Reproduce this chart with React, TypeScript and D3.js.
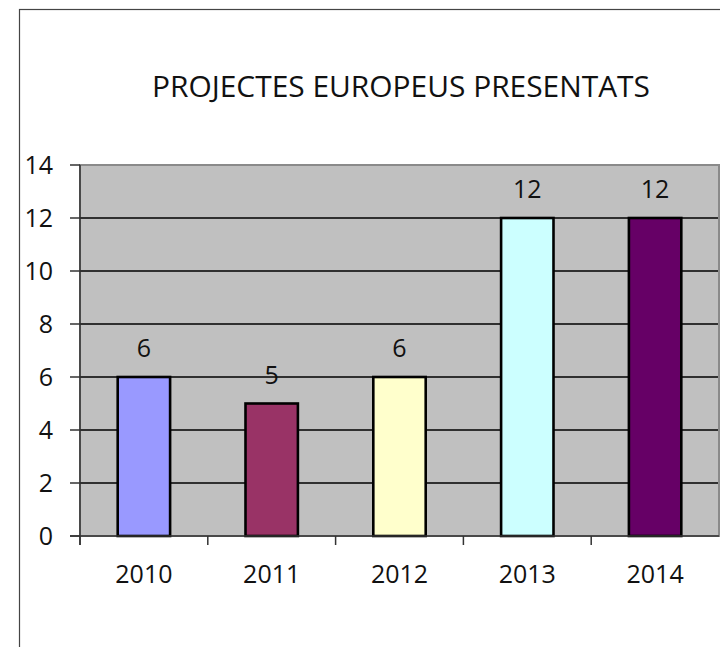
import React from "react";
import * as d3 from "d3";

const categories = ["2010", "2011", "2012", "2013", "2014"];
const values = [6, 5, 6, 12, 12];
const barColors = ["#9999FF", "#993366", "#FFFFCC", "#CCFFFF", "#660066"];
const yTicks = [0, 2, 4, 6, 8, 10, 12, 14];
const title = "PROJECTES EUROPEUS PRESENTATS";

const W = 720;
const H = 647;
const plot = { left: 80, right: 719, top: 165, bottom: 536 };
const FONT = "'Open Sans', 'Liberation Sans', sans-serif";

export default function App() {
  const x = d3
    .scaleBand<string>()
    .domain(categories)
    .range([plot.left, plot.right])
    .paddingInner(0)
    .paddingOuter(0);
  const y = d3.scaleLinear().domain([0, 14]).range([plot.bottom, plot.top]);
  const bw = x.bandwidth() * 0.41;
  const boundaries = d3.range(categories.length).map((i) => plot.left + i * x.step());

  return (
    <svg
      width={W}
      height={H}
      style={{ position: "absolute", left: 0, top: 0, background: "#fff" }}
      fontFamily={FONT}
    >
      <rect x={19.5} y={9.5} width={W + 20} height={H + 20} fill="#fff" stroke="#444" strokeWidth={1.2} />
      <text
        x={401}
        y={97}
        textAnchor="middle"
        fontSize={30}
        fill="#111"
        textLength={498}
        lengthAdjust="spacingAndGlyphs"
      >
        {title}
      </text>
      <rect
        x={plot.left}
        y={plot.top}
        width={plot.right - plot.left}
        height={plot.bottom - plot.top}
        fill="#C0C0C0"
        stroke="#8a8a8a"
        strokeWidth={2}
      />
      {yTicks
        .filter((t) => t > 0 && t < 14)
        .map((t) => (
          <line key={"g" + t} x1={plot.left} x2={plot.right - 1} y1={y(t)} y2={y(t)} stroke="#000" strokeWidth={1.5} />
        ))}
      {categories.map((c, i) => {
        const cx = x(c)! + x.bandwidth() / 2;
        return (
          <g key={c}>
            <rect
              x={cx - bw / 2}
              y={y(values[i])}
              width={bw}
              height={plot.bottom - y(values[i])}
              fill={barColors[i]}
              stroke="#000"
              strokeWidth={2.6}
            />
            <text x={cx} y={y(values[i]) - 20} textAnchor="middle" fontSize={25} fill="#111">
              {values[i]}
            </text>
            <text x={cx} y={583} textAnchor="middle" fontSize={25} fill="#111">
              {c}
            </text>
          </g>
        );
      })}
      {/* axes */}
      <line x1={plot.left} x2={plot.left} y1={plot.top} y2={plot.bottom + 9} stroke="#333" strokeWidth={1.5} />
      <line x1={plot.left - 10} x2={plot.right} y1={plot.bottom} y2={plot.bottom} stroke="#333" strokeWidth={1.5} />
      {yTicks.map((t) => (
        <g key={"t" + t}>
          <line x1={plot.left - 10} x2={plot.left} y1={y(t)} y2={y(t)} stroke="#333" strokeWidth={1.5} />
          <text x={53} y={y(t) + 9} textAnchor="end" fontSize={25} fill="#111">
            {t}
          </text>
        </g>
      ))}
      {boundaries.map((bx, i) => (
        <line key={"xt" + i} x1={bx} x2={bx} y1={plot.bottom} y2={plot.bottom + 9} stroke="#333" strokeWidth={1.5} />
      ))}
    </svg>
  );
}
